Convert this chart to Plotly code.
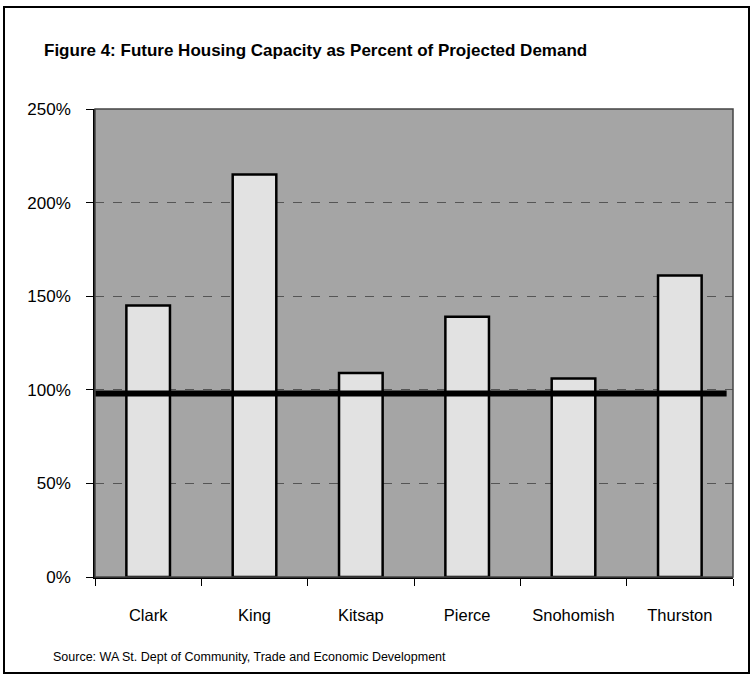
import plotly.graph_objects as go

counties = ["Clark", "King", "Kitsap", "Pierce", "Snohomish", "Thurston"]
capacity_pct = [145, 215, 109, 139, 106, 161]
demand_line = 98
y_ticks = [0, 50, 100, 150, 200, 250]
y_tick_labels = ["0%", "50%", "100%", "150%", "200%", "250%"]

FONT = "Liberation Sans, Arial"

W, H = 751, 676
L, R, T, B = 95, 18, 109, 99
pw, ph = W - L - R, H - T - B

def px_x(p):
    return (p - L) / pw

def px_y(p):
    return (H - B - p) / ph

fig = go.Figure()
fig.add_trace(go.Bar(
    x=counties, y=capacity_pct,
    marker=dict(color="#e2e2e2", line=dict(color="black", width=2.5)),
    width=0.41,
))

fig.add_shape(type="line", xref="x domain", yref="y", x0=0, x1=0.99,
              y0=demand_line, y1=demand_line,
              line=dict(color="black", width=6), layer="above")

# outer frame
fig.add_shape(type="rect", xref="paper", yref="paper",
              x0=px_x(4), x1=px_x(749), y0=px_y(673), y1=px_y(7),
              line=dict(color="black", width=2))

fig.add_annotation(text="<b>Figure 4: Future Housing Capacity as Percent of Projected Demand</b>",
                   xref="paper", yref="paper", x=px_x(42), y=px_y(50),
                   xanchor="left", yanchor="middle", showarrow=False,
                   font=dict(family=FONT, size=17, color="black"))
fig.add_annotation(text="Source: WA St. Dept of Community, Trade and Economic Development",
                   xref="paper", yref="paper", x=px_x(51), y=px_y(657),
                   xanchor="left", yanchor="middle", showarrow=False,
                   font=dict(family=FONT, size=12.5, color="black"))

fig.update_layout(
    width=W, height=H,
    margin=dict(l=L, r=R, t=T, b=B),
    paper_bgcolor="white",
    plot_bgcolor="#a5a5a5",
    showlegend=False,
    bargap=0.59,
    font=dict(family=FONT, color="black"),
)
fig.update_xaxes(
    showline=True, linecolor="black", linewidth=1.5,
    ticks="outside", tickson="boundaries", ticklen=7, tickcolor="black",
    tickfont=dict(size=16.5, family=FONT), ticklabelstandoff=22,
    showgrid=False, mirror=False,
)
fig.update_yaxes(
    range=[0, 250], tickvals=y_ticks, ticktext=y_tick_labels,
    showline=True, linecolor="black", linewidth=1.5,
    ticks="outside", ticklen=7, tickcolor="black",
    tickfont=dict(size=17, family=FONT), ticklabelstandoff=12,
    showgrid=True, gridcolor="#555555", griddash="dash", gridwidth=1,
    zeroline=False,
)
# plot area top/right border
fig.add_shape(type="rect", xref="paper", yref="paper", x0=0, x1=1, y0=0, y1=1,
              line=dict(color="#444444", width=1.5), layer="above")

fig.write_html("out.html", config={"displayModeBar": False},
               post_script="document.body.style.margin='0';")
